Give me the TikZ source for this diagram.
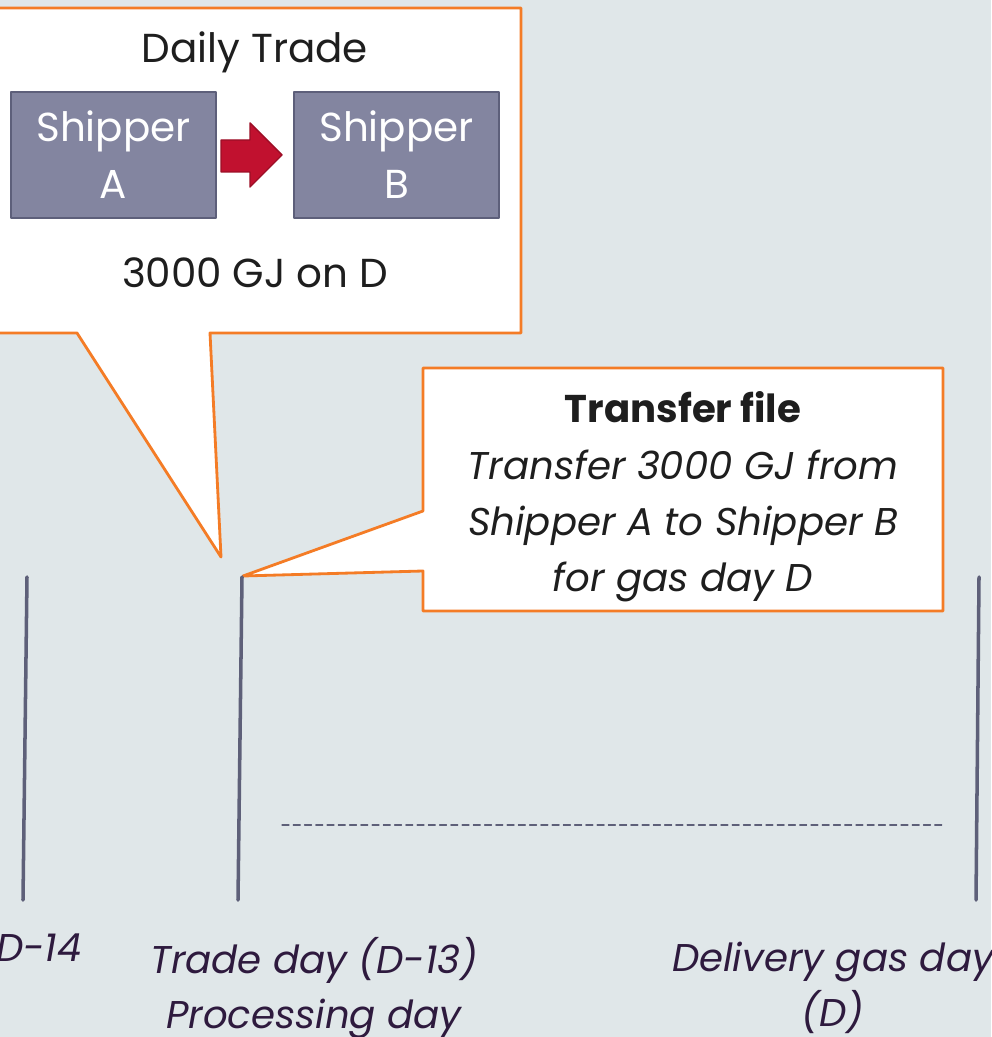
\documentclass[tikz,border=0pt]{standalone}
\usepackage{fontspec}
\setmainfont{Poppins}
\usetikzlibrary{positioning}
\definecolor{slidebg}{HTML}{E0E7E9}
\definecolor{calloutorange}{HTML}{F47C26}
\definecolor{shipperfill}{HTML}{8385A0}
\definecolor{shipperedge}{HTML}{5D5F7A}
\definecolor{tradered}{HTML}{C1112F}
\definecolor{tradereddark}{HTML}{9C0E26}
\definecolor{daygray}{HTML}{5E6079}
\definecolor{daypurple}{HTML}{2E1A3E}
\definecolor{calltext}{HTML}{1E1E1E}
\newcommand\boxfont{\fontsize{11.5}{16.2}\selectfont}
\newcommand\labfont{\fontsize{11}{15.6}\selectfont}
\begin{document}
\begin{tikzpicture}[x=0.01cm, y=-0.01cm, line join=round, line cap=round,
  callout/.style={draw=calloutorange, fill=white, line width=0.8pt},
  shipper/.style={draw=shipperedge, fill=shipperfill, line width=0.8pt, minimum width=2.05cm, minimum height=1.26cm, inner sep=0pt, text=white, align=center, font=\boxfont},
  dayline/.style={draw=daygray, line width=1pt},
  daylabel/.style={text=daypurple, align=center, font=\itshape\labfont}]
  \useasboundingbox[fill=slidebg] (0,0) rectangle (991,1037);
  \path
  (27,577) coordinate (T1) (23,900) coordinate (B1)
  (242,577) coordinate (T2) (238,900) coordinate (B2)
  (979,577) coordinate (T3) (976,900) coordinate (B3)
  (282,825) coordinate (L) (942,825) coordinate (R);
  % callouts
  \draw[callout] (-10,8) -- (521,8) -- (521,333) -- (210,333) -- (221,557) -- (77,333) -- (-10,333) -- cycle;
  \draw[callout] (423,368) -- (943,368) -- (943,611) -- (423,611) -- (423,571) -- (243,576) -- (423,511) -- cycle;
  % daily trade
  \node[anchor=base, text=calltext, font=\boxfont] (trade) at (255,63) {Daily Trade};
  \node[shipper] (shipA) at (113.5,155) {Shipper\\A};
  \node[shipper, right=0.75cm of shipA] (shipB) {Shipper\\B};
  \draw[fill=tradered, draw=tradereddark, line width=0.4pt] (221,140) -- (250,140) -- (250,123) -- (282,155) -- (250,187) -- (250,172) -- (221,172) -- cycle;
  \node[anchor=base, text=calltext, font=\boxfont] (qty) at (255,288) {3000 GJ on D};
  % transfer file
  \node[text=calltext, align=center, font=\fontsize{11}{16}\selectfont] (xfer) at (683,497)
    {\textbf{Transfer file}\\\textit{Transfer 3000 GJ from}\\\textit{Shipper A to Shipper B}\\\textit{for gas day D}};
  % timeline
  \draw[dayline] (T1) -- (B1) (T2) -- (B2) (T3) -- (B3);
  \draw[daygray, line width=0.3pt, dash pattern=on 2pt off 1.2pt] (L) -- (R);
  \node[daylabel, anchor=base east] (d14) at (94,961) {D-14};
  \node[daylabel] (d13) at (314,988) {Trade day (D-13)\\Processing day};
  \node[daylabel] (dd) at (833,988) {Delivery gas day\\(D)};
\end{tikzpicture}
\end{document}
